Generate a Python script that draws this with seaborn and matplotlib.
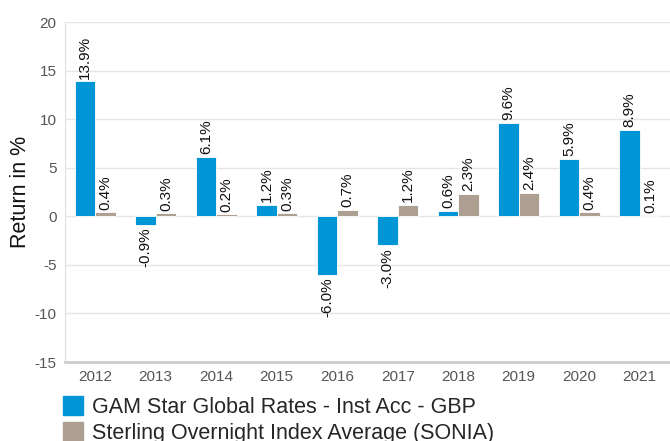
import pandas as pd
import seaborn as sns
import matplotlib.pyplot as plt

# =========================
# DATA
# =========================
years = ["2012", "2013", "2014", "2015", "2016", "2017", "2018", "2019", "2020", "2021"]
gam = [13.9, -0.9, 6.1, 1.2, -6.0, -3.0, 0.6, 9.6, 5.9, 8.9]
sonia = [0.4, 0.3, 0.2, 0.3, 0.7, 1.2, 2.3, 2.4, 0.4, 0.1]
series_names = ["GAM Star Global Rates - Inst Acc - GBP",
                "Sterling Overnight Index Average (SONIA)"]
colors = ["#0096d6", "#ada093"]

df = pd.DataFrame({
    "year": years * 2,
    "value": gam + sonia,
    "series": [series_names[0]] * len(years) + [series_names[1]] * len(years),
})

# =========================
# PLOT
# =========================
sns.set_style("white")
plt.rcParams['font.family'] = ['Liberation Sans', 'DejaVu Sans']
plt.rcParams['axes.unicode_minus'] = False

fig = plt.figure(figsize=(6.7, 4.41), dpi=100)
ax = fig.add_axes([0.097, 0.179, 0.903, 0.771])

sns.barplot(data=df, x="year", y="value", hue="series", palette=colors,
            saturation=1, width=0.68, edgecolor="white", linewidth=0.6,
            ax=ax, legend=False)

for cont, vals in zip(ax.containers, [gam, sonia]):
    ax.bar_label(cont, labels=[f"{v:.1f}%" for v in vals], rotation=90,
                 padding=2, fontsize=11, color="#111111")

ax.set_ylim(-15, 20)
ax.set_xlim(-0.5, 9.5)
ax.set_yticks(range(-15, 21, 5))
ax.yaxis.grid(True, color="#e6e6e6", linewidth=1)
ax.set_axisbelow(True)
for s in ["top", "right"]:
    ax.spines[s].set_visible(False)
ax.spines["left"].set_color("#e0e0e0")
ax.spines["bottom"].set_color("#cccccc")
ax.spines["bottom"].set_linewidth(2)
ax.tick_params(axis="both", labelsize=11, labelcolor="#555555", length=0, pad=6)
ax.set_xlabel("")
ax.set_ylabel("Return in %", fontsize=15.5, color="#111111")
ax.yaxis.set_label_coords(-0.057, 0.5)

handles = [plt.Rectangle((0, 0), 1, 1, color=c) for c in colors]
fig.legend(handles, series_names, loc="upper left",
           bbox_to_anchor=(63 / 670, 1 - 396 / 441),
           frameon=False, fontsize=15.5, handlelength=0.95, handleheight=0.95,
           handletextpad=0.4, labelspacing=0.2, borderpad=0, borderaxespad=0)

plt.savefig("out.png", dpi=100)
